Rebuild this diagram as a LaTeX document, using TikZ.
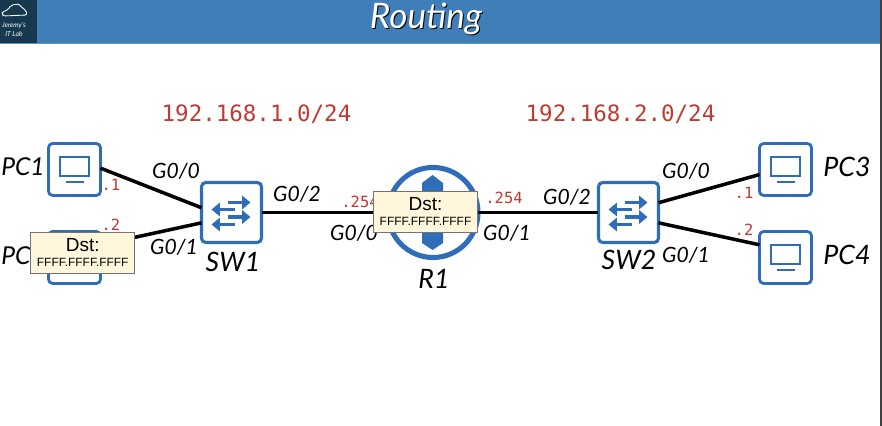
\documentclass[tikz,border=0pt]{standalone}
\usepackage{fontspec}
\usepackage{xcolor}
\usetikzlibrary{arrows.meta}
\setmainfont{Liberation Sans}
\setsansfont{Lato}
\setmonofont{DejaVu Sans Mono}
\definecolor{headblue}{HTML}{3F7EB8}
\definecolor{headline}{HTML}{5A9BB5}
\definecolor{logoblue}{HTML}{17394F}
\definecolor{iconblue}{HTML}{2F6DB9}
\definecolor{addrred}{HTML}{BE3A32}
\definecolor{tipfill}{HTML}{FFF6DC}
\tikzset{
    pcicon/.pic={
        \draw[iconblue, line width=1.4pt] (-14.5,-12.5) rectangle (14.5,6.5);
        \draw[iconblue, line width=1.4pt] (-9,12.5) -- (9,12.5);
    },
    swicon/.pic={
        \draw[iconblue, line width=2.4pt, -{Triangle[length=6pt,width=9.5pt]}] (-4,-10) -- (19,-10);
        \draw[iconblue, line width=2.4pt, {Triangle[length=6pt,width=9.5pt]}-] (-20,-3) -- (3,-3);
        \draw[iconblue, line width=2.4pt, -{Triangle[length=6pt,width=9.5pt]}] (-4,4.5) -- (19,4.5);
        \draw[iconblue, line width=2.4pt, {Triangle[length=6pt,width=9.5pt]}-] (-20,12) -- (3,12);
    }
}
\begin{document}
\begin{tikzpicture}[
    x=0.025cm, y=-0.025cm,
    pc/.style={rectangle, rounded corners=3pt, draw=iconblue, fill=white, line width=2pt, minimum size=1.3cm, outer sep=0pt},
    switch/.style={rectangle, rounded corners=3pt, draw=iconblue, fill=white, line width=2.2pt, minimum size=1.5cm, outer sep=0pt},
    router/.style={circle, draw=iconblue, fill=white, line width=3.6pt, minimum size=2.25cm, outer sep=0pt},
    link/.style={black, line width=2.5pt},
    devlabel/.style={font=\sffamily\itshape\fontsize{19}{19}\selectfont},
    portlabel/.style={font=\sffamily\itshape\fontsize{15}{15}\selectfont},
    hostlabel/.style={font=\ttfamily\fontsize{11}{11}\selectfont, text=addrred},
    subnet/.style={font=\ttfamily\fontsize{16}{16}\selectfont, text=addrred},
    dstbox/.style={rectangle, draw=black!55, fill=tipfill, line width=0.4pt, minimum width=2.6cm, minimum height=1.02cm, inner sep=0pt, outer sep=0pt, font=\fontsize{13.5}{12}\selectfont},
    every node/.style={align=center}
]
\useasboundingbox (0,0) rectangle (882,426);

% Header
\node[fill=headblue, minimum width=22.05cm, minimum height=1.08cm, inner sep=0pt] (header) at (441,21.5) {};
\draw[headline, line width=0.7pt] (header.south west) -- (header.south east);
\node[fill=logoblue, minimum width=0.93cm, minimum height=1.08cm, inner sep=0pt] (logo) at (18.5,21.5) {};
\draw[white, line width=0.6pt, rounded corners=1.5pt] (3,16) -- (2,12) -- (8,10) -- (11,5) -- (19,4) -- (22,8) -- (26,10) -- (27,15) -- cycle;
\node[text=white, font=\sffamily\itshape\fontsize{4.8}{6}\selectfont] (logotext) at (14,29.5) {Jeremy's\\IT Lab};
\node[text=black, font=\sffamily\itshape\fontsize{25}{25}\selectfont] (titleshadow) at (427,20) {Routing};
\node[text=white, font=\sffamily\itshape\fontsize{25}{25}\selectfont] (title) at (426,19) {Routing};
\draw[black!75, line width=0.8pt] (881,0) -- (881,426);

% Subnets
\node[subnet] (net1) at (256.5,114) {192.168.1.0/24};
\node[subnet] (net2) at (620.5,114) {192.168.2.0/24};

% Devices
\node[pc] (pc1) at (74.5,169.5) {};
\node[pc] (pc2) at (74.5,257.5) {};
\node[switch] (sw1) at (231.5,212.5) {};
\node[router] (r1) at (433,212.5) {};
\node[switch] (sw2) at (628.5,212.5) {};
\node[pc] (pc3) at (785.5,169.5) {};
\node[pc] (pc4) at (785.5,257.5) {};

% Icons
\pic at (pc1) {pcicon};
\pic at (pc2) {pcicon};
\pic at (pc3) {pcicon};
\pic at (pc4) {pcicon};
\pic at (sw1) {swicon};
\pic at (sw2) {swicon};
\fill[iconblue] (422,183) -- (432.5,175) -- (443,183) -- (443,198) -- (422,198) -- cycle;
\fill[iconblue] (422,243) -- (432.5,250) -- (443,243) -- (443,226) -- (422,226) -- cycle;

% Links
\draw[link] (pc1.3) -- (sw1.171);
\draw[link] (pc2.26) -- (sw1.199);
\draw[link] (sw1) -- (r1);
\draw[link] (r1) -- (sw2);
\draw[link] (sw2.18) -- (pc3.191);
\draw[link] (sw2.-19) -- (pc4.154);

% Device labels
\node[devlabel, font=\sffamily\itshape\fontsize{17.5}{18}\selectfont] (pc1name) at (23,167) {PC1};
\node[devlabel, font=\sffamily\itshape\fontsize{17.5}{18}\selectfont] (pc2name) at (23,256) {PC2};
\node[devlabel] (pc3name) at (847,167) {PC3};
\node[devlabel] (pc4name) at (847,255) {PC4};
\node[devlabel] (sw1name) at (233,262) {SW1};
\node[devlabel] (sw2name) at (629,260) {SW2};
\node[devlabel] (r1name) at (434,279) {R1};

% Port labels
\node[portlabel] (sw1p0) at (176,171) {G0/0};
\node[portlabel] (sw1p1) at (174,247) {G0/1};
\node[portlabel] (sw1p2) at (297,194) {G0/2};
\node[portlabel] (r1p0) at (354,233) {G0/0};
\node[portlabel] (r1p1) at (507,233) {G0/1};
\node[portlabel] (sw2p2) at (567,197) {G0/2};
\node[portlabel] (sw2p0) at (686,171) {G0/0};
\node[portlabel] (sw2p1) at (686,255) {G0/1};

% Host addresses
\node[hostlabel] (pc1ip) at (111,185) {.1};
\node[hostlabel] (pc2ip) at (111,225) {.2};
\node[hostlabel] (r1ip0) at (360,202) {.254};
\node[hostlabel] (r1ip1) at (504,198) {.254};
\node[hostlabel] (pc3ip) at (744,193) {.1};
\node[hostlabel] (pc4ip) at (744,230) {.2};

% Broadcast frames
\node[dstbox] (frame1) at (82.7,252.5) {Dst:\\[-1pt]{\fontsize{8.5}{9}\selectfont FFFF.FFFF.FFFF}};
\node[dstbox] (frame2) at (425.5,211.5) {Dst:\\[-1pt]{\fontsize{8.5}{9}\selectfont FFFF.FFFF.FFFF}};

\end{tikzpicture}
\end{document}
